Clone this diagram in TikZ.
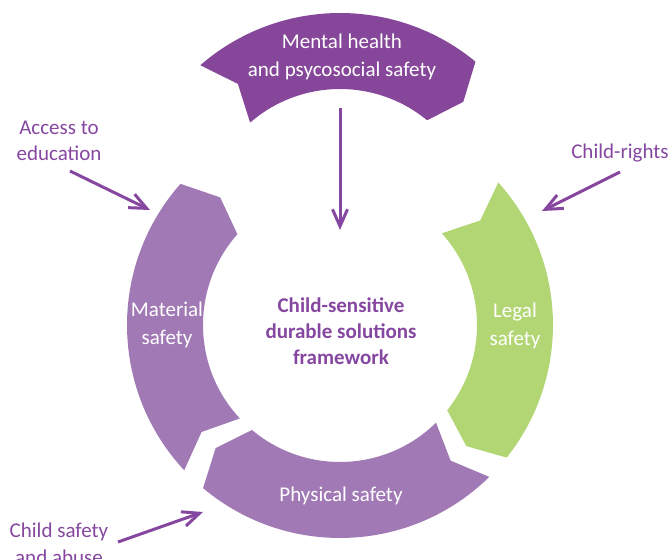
\documentclass[tikz,border=0pt]{standalone}
\usepackage{fontspec}
\setmainfont{Carlito}
\usetikzlibrary{arrows.meta,positioning}
\definecolor{deepPurple}{RGB}{134,71,154}
\definecolor{softPurple}{RGB}{161,122,181}
\definecolor{leafGreen}{RGB}{179,214,117}
\definecolor{inkPurple}{RGB}{134,71,160}

\begin{document}
\begin{tikzpicture}[x=1pt,y=1pt]
		\tikzstyle{segText} = [text=white, align=center, inner sep=0pt,
		font=\fontsize{21}{28}\selectfont]
		\tikzstyle{sideText} = [text=inkPurple, align=center, inner sep=0pt,
		font=\fontsize{21}{26.5}\selectfont]
		\tikzstyle{arrow} = [draw=inkPurple, line width=3pt, -{Straight Barb[length=17pt,width=15pt]}]
		\useasboundingbox (0,0) rectangle (670,560);
		\coordinate (ringCentre) at (340,235);
		\coordinate (topCentre) at (340,334);
		% ring pieces: notch at the start, point at the end
		\fill[deepPurple, shift={(topCentre)}] (131:213pt) arc[start angle=131, end angle=50.5, radius=213pt]
		-- (45.2:175pt) -- (50.5:137pt) arc[start angle=50.5, end angle=131, radius=137pt] -- (125.7:175pt) -- cycle;
		\fill[leafGreen, shift={(ringCentre)}] (42:213pt) arc[start angle=42, end angle=-38.5, radius=213pt]
		-- (-43.8:175pt) -- (-38.5:137pt) arc[start angle=-38.5, end angle=42, radius=137pt] -- (36.7:175pt) -- cycle;
		\fill[softPurple, shift={(ringCentre)}] (-45.5:213pt) arc[start angle=-45.5, end angle=-130, radius=213pt]
		-- (-135.3:175pt) -- (-130:137pt) arc[start angle=-130, end angle=-45.5, radius=137pt] -- (-50.8:175pt) -- cycle;
		\fill[softPurple, shift={(ringCentre)}] (223:213pt) arc[start angle=223, end angle=138.5, radius=213pt]
		-- (133.2:175pt) -- (138.5:137pt) arc[start angle=138.5, end angle=223, radius=137pt] -- (217.7:175pt) -- cycle;
		% texts
		\node (mentalHealth) [segText] at (342,503) {Mental health\\and psycosocial safety};
		\node (materialSafety) [segText] at (167,235) {Material\\safety};
		\node (legalSafety) [segText] at (515,234) {Legal\\safety};
		\node (physicalSafety) [segText] at (341,64) {Physical safety};
		\node (framework) [sideText, font=\fontsize{21}{26}\selectfont\bfseries] at (341,229)
		{Child-sensitive\\durable solutions\\framework};
		\node (accessEducation) [sideText] at (59,419) {Access to\\education};
		\node (childRights) [sideText] at (620,407) {Child-rights};
		\node (childAbuse) [sideText] at (59,16) {Child safety\\and abuse};
		% arrows
		\coordinate (mentalStart) at (340,452);
		\coordinate (mentalEnd) at (340,330);
		\coordinate (accessStart) at (70,389);
		\coordinate (accessEnd) at (150,350);
		\coordinate (rightsStart) at (620,388);
		\coordinate (rightsEnd) at (542,349);
		\coordinate (abuseStart) at (118,18);
		\coordinate (abuseEnd) at (203,48);
		\draw [arrow] (mentalStart) -- (mentalEnd);
		\draw [arrow] (accessStart) -- (accessEnd);
		\draw [arrow] (rightsStart) -- (rightsEnd);
		\draw [arrow] (abuseStart) -- (abuseEnd);
\end{tikzpicture}
\end{document}
